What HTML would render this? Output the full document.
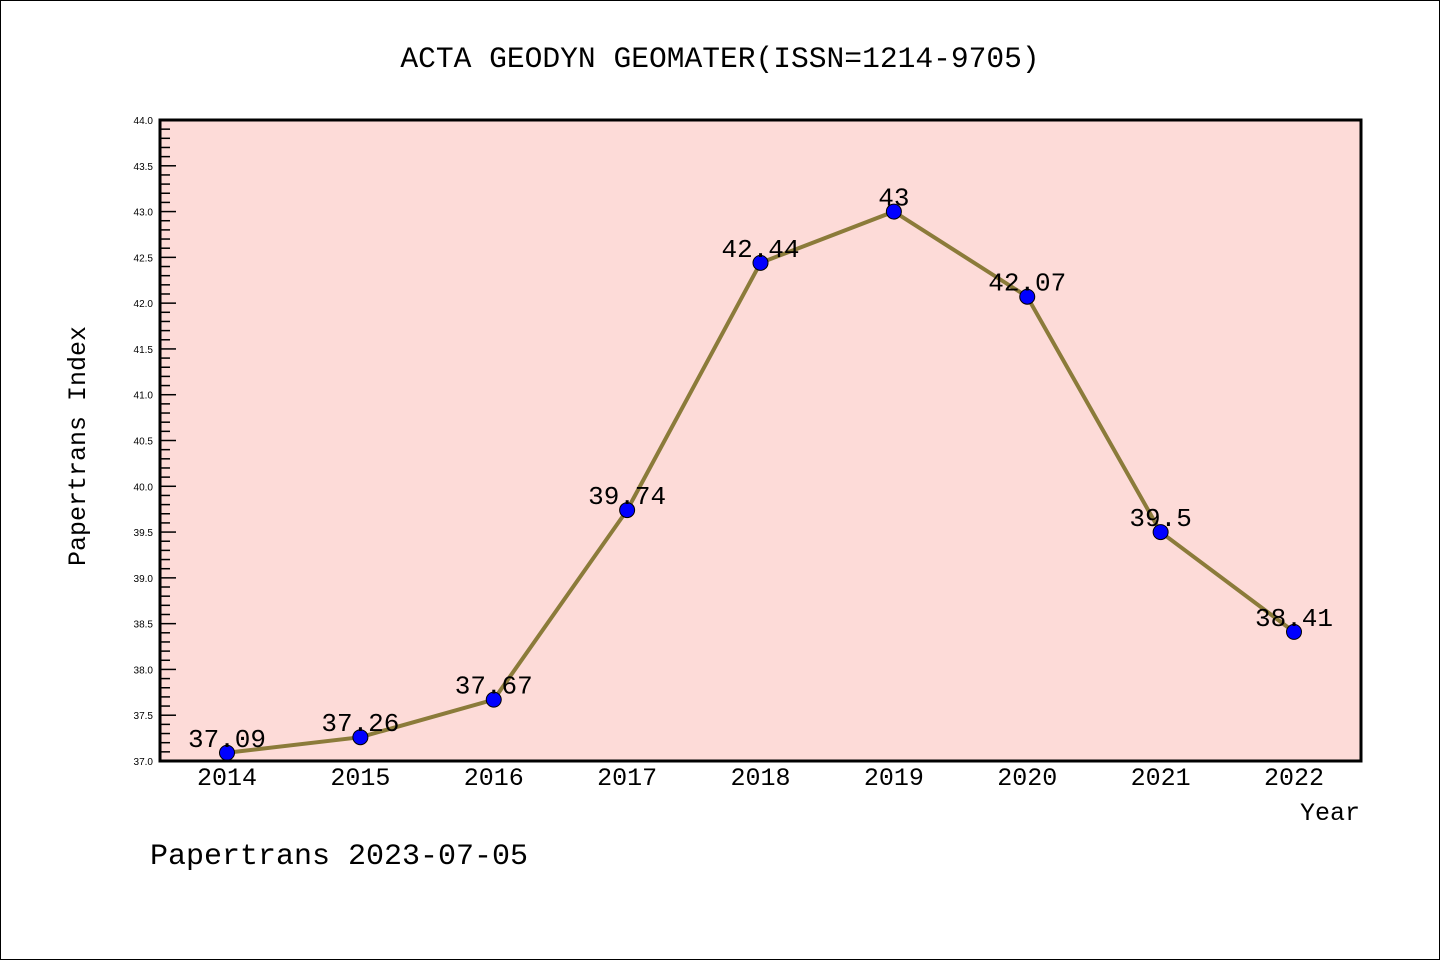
<!DOCTYPE html>
<html><head><meta charset="utf-8"><style>
html,body{margin:0;padding:0;background:#fff}
svg{display:block}
text{font-family:"Liberation Mono","DejaVu Sans Mono",monospace}
</style></head><body>
<svg id="chart" width="1440" height="960" xmlns="http://www.w3.org/2000/svg">
<rect x="0.5" y="0.5" width="1439" height="959" fill="#fff" stroke="#000"/>
<text x="720" y="67" font-size="29.6" text-anchor="middle">ACTA GEODYN GEOMATER(ISSN=1214-9705)</text>
<rect x="160" y="120" width="1201" height="641" fill="#fddbd8"/>
<g id="yticks"></g>
<g id="xticks"></g>
<g id="series"></g>
<rect x="160" y="120" width="1201" height="641" fill="none" stroke="#000" stroke-width="3"/>
<text transform="translate(85,446) rotate(-90)" font-size="25" text-anchor="middle">Papertrans Index</text>
<text x="1360" y="820" font-size="25" text-anchor="end">Year</text>
<text x="150" y="864" font-size="30">Papertrans 2023-07-05</text>
</svg>
<script>
const years = [2014,2015,2016,2017,2018,2019,2020,2021,2022];
const values = [37.09,37.26,37.67,39.74,42.44,43,42.07,39.5,38.41];
const valueLabels = ["37.09","37.26","37.67","39.74","42.44","43","42.07","39.5","38.41"];
const yMin = 37, yMax = 44;
const NS = "http://www.w3.org/2000/svg";
const L=160,R=1361,T=120,B=761;
function yPos(v){return B-(v-yMin)/(yMax-yMin)*(B-T);}
function xPos(i){return 227+i*(1294-227)/(years.length-1);}
function mk(tag,attrs,parent){const e=document.createElementNS(NS,tag);for(const k in attrs)e.setAttribute(k,attrs[k]);parent.appendChild(e);return e;}
const yg=document.getElementById('yticks');
for(let k=0;k<=Math.round((yMax-yMin)*10);k++){
  const v=yMin+k/10, y=yPos(v), major=k%5===0;
  const t=mk('line',{x1:L,x2:L+(major?16:10),y1:y,y2:y,stroke:'#000','stroke-width':1.5},yg);
  
  
  if(major){
    const tx=mk('text',{x:153,y:y+4,'font-size':10,'text-anchor':'end',style:'font-family:"Liberation Sans",sans-serif'},yg);
    tx.textContent=v.toFixed(1);
    
    
  }
}
const xg=document.getElementById('xticks');
years.forEach((yr,i)=>{
  const tx=mk('text',{x:xPos(i),y:785,'font-size':25,'text-anchor':'middle'},xg);
  tx.textContent=yr;
  
  
});
const sg=document.getElementById('series');
const pts=values.map((v,i)=>xPos(i)+','+yPos(v)).join(' ');
const pl=mk('polyline',{points:pts,fill:'none',stroke:'#8b7b3a','stroke-width':4},sg);


values.forEach((v,i)=>{
  const c=mk('circle',{cx:xPos(i),cy:yPos(v),r:7.5,fill:'#0000ff',stroke:'#000','stroke-width':1},sg);
  
  
});
values.forEach((v,i)=>{
  const t=mk('text',{x:xPos(i),y:yPos(v)-6,'font-size':26,'text-anchor':'middle'},sg);
  t.textContent=valueLabels[i];
  
  
});
</script>
</body></html>
